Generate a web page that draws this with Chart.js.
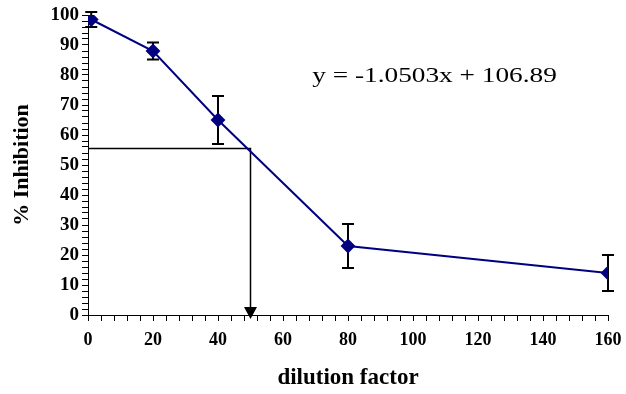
<!DOCTYPE html>
<html lang="en">
<head>
  <meta charset="UTF-8">
  <title>% Inhibition vs dilution factor</title>
  <style>
    html, body { margin: 0; padding: 0; background: #fff; }
    .chart-container { width: 626px; height: 394px; }
  </style>
</head>
<body>
  <div class="chart-container">
    <canvas id="inhibitionChart"></canvas>
  </div>

  <script src="https://cdn.jsdelivr.net/npm/chart.js"></script>
  <script>
    // values
    const dilution = [1, 20, 40, 80, 160];
    const inhibition = [98.5, 88, 65, 23, 14];
    const errorBars = [2.5, 2.8, 8, 7.3, 6];

    // IC50 guide lines (horizontal to x = 50, then arrow down)
    const guideX = [0, 50, 50];
    const guideY = [55.5, 55.5, 0];

    const equationText = 'y = -1.0503x + 106.89';

    const serif = "'Liberation Serif', 'Times New Roman', serif";

    // error bars, drawn under the line
    const errorBarPlugin = {
      id: 'errorBars',
      beforeDatasetsDraw(chart) {
        const { ctx, scales: { x, y } } = chart;
        ctx.save();
        ctx.strokeStyle = '#000';
        ctx.lineWidth = 2;
        dilution.forEach((d, i) => {
          const px = x.getPixelForValue(d);
          const top = y.getPixelForValue(inhibition[i] + errorBars[i]);
          const bot = y.getPixelForValue(inhibition[i] - errorBars[i]);
          ctx.beginPath();
          ctx.moveTo(px, top); ctx.lineTo(px, bot);
          ctx.moveTo(px - 6, top); ctx.lineTo(px + 6, top);
          ctx.moveTo(px - 6, bot); ctx.lineTo(px + 6, bot);
          ctx.stroke();
        });
        ctx.restore();
      },
      afterDatasetsDraw(chart) {
        const { ctx, scales: { x, y } } = chart;
        ctx.save();
        // arrow head at the end of the guide line
        const ax = x.getPixelForValue(guideX[2]);
        const ay = y.getPixelForValue(guideY[2]);
        ctx.fillStyle = '#000';
        ctx.beginPath();
        ctx.moveTo(ax - 6.5, ay - 8);
        ctx.lineTo(ax + 6.5, ay - 8);
        ctx.lineTo(ax, ay + 4);
        ctx.closePath();
        ctx.fill();

        // regression equation
        const ex = x.getPixelForValue(69);
        const ey = y.getPixelForValue(77.7);
        ctx.translate(ex, ey);
        ctx.scale(1.3, 1);
        ctx.font = '21px ' + serif;
        ctx.textBaseline = 'alphabetic';
        ctx.textAlign = 'left';
        ctx.fillText(equationText, 0, 0);
        ctx.restore();
      }
    };

    const ctx = document.getElementById('inhibitionChart').getContext('2d');
    new Chart(ctx, {
      type: 'line',
      data: {
        datasets: [{
          label: '% Inhibition',
          data: dilution.map((d, i) => ({ x: d, y: inhibition[i] })),
          borderColor: '#000080',
          backgroundColor: '#000080',
          borderWidth: 2,
          pointStyle: 'rectRot',
          pointRadius: 6,
          pointHoverRadius: 6,
          tension: 0
        }, {
          label: 'IC50',
          data: guideX.map((d, i) => ({ x: d, y: guideY[i] })),
          borderColor: '#000',
          borderWidth: 1.5,
          pointRadius: 0,
          tension: 0,
          clip: false
        }]
      },
      options: {
        responsive: true,
        maintainAspectRatio: false,
        animation: false,
        layout: { padding: { top: 15, right: 18, left: 0, bottom: 0 } },
        plugins: {
          legend: { display: false },
          tooltip: { enabled: false }
        },
        scales: {
          x: {
            type: 'linear',
            min: 0,
            max: 160,
            afterFit: s => { s.height = 79; s.paddingLeft = 0; s.paddingRight = 0; },
            border: { color: '#000', width: 1 },
            grid: { drawOnChartArea: false, color: '#000', tickLength: 6 },
            ticks: {
              stepSize: 4,
              autoSkip: false,
              maxRotation: 0,
              padding: 9,
              color: '#000',
              font: { family: serif, size: 18, weight: 'bold' },
              callback: v => (v % 20 === 0 ? v : '')
            },
            title: {
              display: true,
              text: 'dilution factor',
              color: '#000',
              font: { family: serif, size: 23, weight: 'bold' },
              padding: { top: 0, bottom: 2 }
            }
          },
          y: {
            min: 0,
            max: 100,
            afterFit: s => { s.width = 88; s.paddingTop = 0; s.paddingBottom = 0; },
            border: { color: '#000', width: 1 },
            grid: { drawOnChartArea: false, color: '#000', tickLength: 6 },
            ticks: {
              stepSize: 2,
              autoSkip: false,
              padding: 3,
              color: '#000',
              font: { family: serif, size: 19, weight: 'bold' },
              callback: v => (v % 10 === 0 ? v : '')
            },
            title: {
              display: true,
              text: '% Inhibition',
              color: '#000',
              font: { family: serif, size: 22, weight: 'bold' },
              padding: { top: 9, bottom: 0 }
            }
          }
        }
      },
      plugins: [errorBarPlugin]
    });
  </script>
</body>
</html>
